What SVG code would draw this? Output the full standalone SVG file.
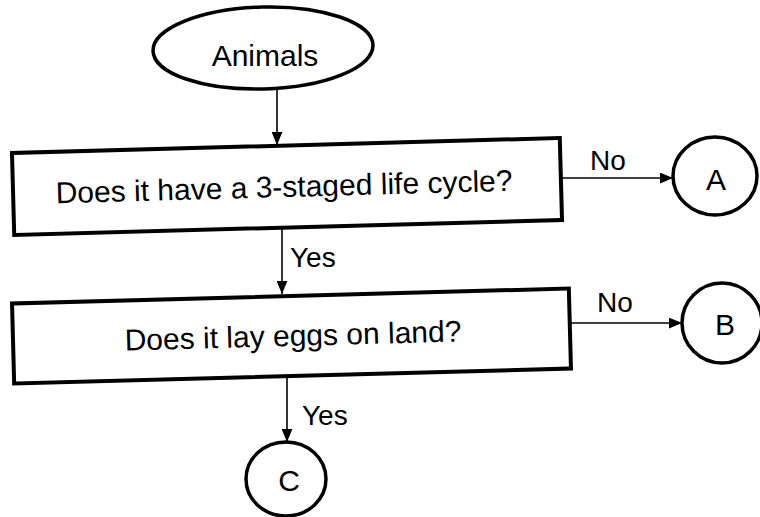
<svg xmlns="http://www.w3.org/2000/svg" width="760" height="517" viewBox="0 0 760 517">
<defs>
<marker id="arr" viewBox="0 0 12 10" markerUnits="userSpaceOnUse" markerWidth="13" markerHeight="11" refX="12" refY="5" orient="auto">
<path d="M0,0 L12,5 L0,10 z" fill="#000"/>
</marker>
</defs>
<style>
.shape{fill:#fff;stroke:#000;stroke-width:4}
.circ{fill:#fff;stroke:#000;stroke-width:3.5}
.lbl{font-family:"Liberation Sans",Arial,sans-serif;font-size:30px;fill:#000;text-anchor:middle}
.edge{fill:none;stroke:#000;stroke-width:1.6;marker-end:url(#arr)}
.elbl{font-family:"Liberation Sans",Arial,sans-serif;font-size:28px;fill:#000}
</style>
<rect width="760" height="517" fill="#fff"/>
<g id="connectors">
<line class="edge" x1="277" y1="90" x2="277" y2="145"/>
<line class="edge" x1="562" y1="178" x2="673" y2="178"/>
<text class="elbl" x="590" y="170">No</text>
<line class="edge" x1="282" y1="228" x2="282" y2="294"/>
<text class="elbl" x="290" y="267">Yes</text>
<line class="edge" x1="571" y1="323" x2="682" y2="323"/>
<text class="elbl" x="597" y="312">No</text>
<line class="edge" x1="287" y1="376" x2="287" y2="442"/>
<text class="elbl" x="302" y="425">Yes</text>
</g>
<g id="animals">
<ellipse class="circ" cx="263" cy="48" rx="110" ry="41" transform="rotate(-1.5 263 48)"/>
<text class="lbl" x="265" y="66">Animals</text>
</g>
<g id="q1" transform="rotate(-1.57 287 186.5)">
<rect class="shape" x="13" y="145.5" width="548" height="82"/>
<text class="lbl" x="284" y="197">Does it have a 3-staged life cycle?</text>
</g>
<g id="q2" transform="rotate(-1.54 291.5 336)">
<rect class="shape" x="13" y="296" width="557" height="80"/>
<text class="lbl" x="293" y="346">Does it lay eggs on land?</text>
</g>
<g id="a">
<ellipse class="circ" cx="715" cy="176" rx="42" ry="39"/>
<text class="lbl" x="716" y="190">A</text>
</g>
<g id="b">
<ellipse class="circ" cx="722" cy="323" rx="40" ry="40"/>
<text class="lbl" x="725" y="335">B</text>
</g>
<g id="c">
<ellipse class="circ" cx="286" cy="479" rx="40" ry="37"/>
<text class="lbl" x="289" y="491">C</text>
</g>
</svg>
